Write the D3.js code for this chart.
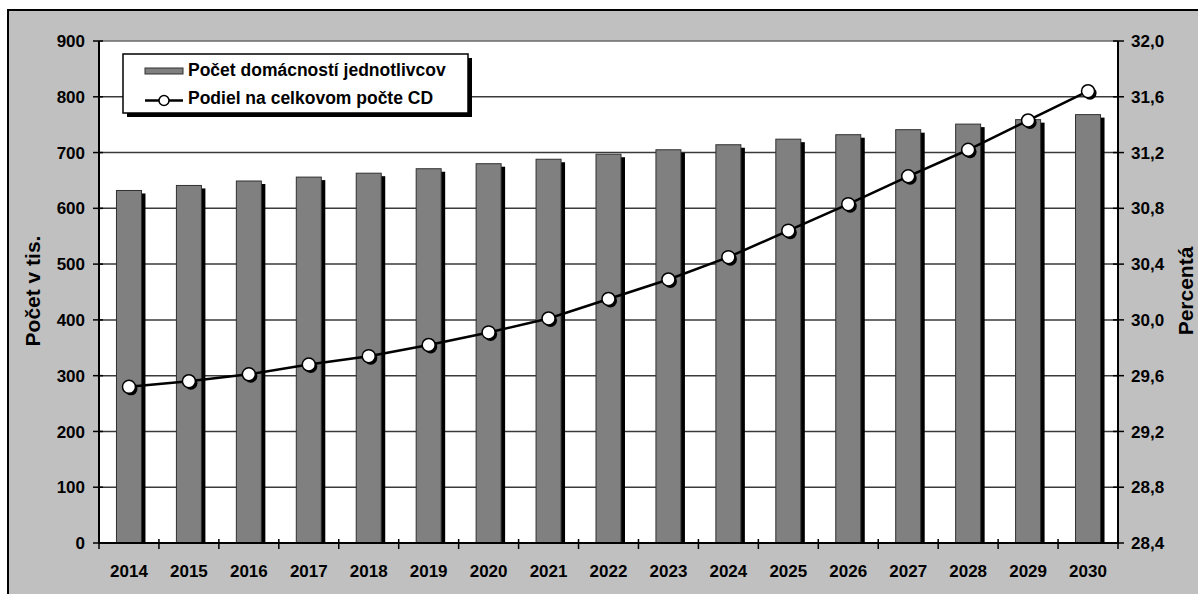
<!DOCTYPE html>
<html>
<head>
<meta charset="utf-8">
<script src="https://cdn.jsdelivr.net/npm/d3@7"></script>
<style>
  html, body { margin: 0; padding: 0; background: #ffffff; }
  svg { display: block; font-family: "Liberation Sans", Arial, sans-serif; font-weight: bold; }
</style>
</head>
<body>
<svg id="chart" width="1198" height="594"></svg>
<script>
const years = ["2014","2015","2016","2017","2018","2019","2020","2021","2022","2023","2024","2025","2026","2027","2028","2029","2030"];
const households = [632, 641, 649, 656, 663, 671, 680, 688, 697, 705, 714, 724, 732, 741, 751, 759, 768];
const share = [29.52, 29.56, 29.61, 29.68, 29.74, 29.82, 29.91, 30.01, 30.15, 30.29, 30.45, 30.64, 30.83, 31.03, 31.22, 31.43, 31.64];
const leftTicks = [0, 100, 200, 300, 400, 500, 600, 700, 800, 900];
const rightTicks = [28.4, 28.8, 29.2, 29.6, 30.0, 30.4, 30.8, 31.2, 31.6, 32.0];
const seriesNames = ["Počet domácností jednotlivcov", "Podiel na celkovom počte CD"];
const leftTitle = "Počet v tis.";
const rightTitle = "Percentá";

const svg = d3.select("#chart");
const W = 1198, H = 594;
const plot = {x0: 99, x1: 1118, y0: 41, y1: 543};

svg.append("rect").attr("x", 0).attr("y", 0).attr("width", W).attr("height", H).attr("fill", "#ffffff");
// chart area (gray)
svg.append("rect").attr("x", 8).attr("y", 10).attr("width", W + 20).attr("height", H + 20)
  .attr("fill", "#c0c0c0").attr("stroke", "#000").attr("stroke-width", 2);

const x = d3.scaleBand().domain(years).range([plot.x0, plot.x1]).padding(0);
const yL = d3.scaleLinear().domain([0, 900]).range([plot.y1, plot.y0]);
const yR = d3.scaleLinear().domain([28.4, 32.0]).range([plot.y1, plot.y0]);

// plot area
svg.append("rect").attr("x", plot.x0).attr("y", plot.y0)
  .attr("width", plot.x1 - plot.x0).attr("height", plot.y1 - plot.y0).attr("fill", "#ffffff");

// gridlines
svg.append("g").selectAll("line").data(leftTicks.filter(d => d > 0)).join("line")
  .attr("x1", plot.x0).attr("x2", plot.x1)
  .attr("y1", d => yL(d)).attr("y2", d => yL(d))
  .attr("stroke", d => d === 900 ? "#6a6a6a" : "#3a3a3a").attr("stroke-width", 1.5);

// bars
const bw = 25;
const barG = svg.append("g");
barG.selectAll("rect.sh").data(households).join("rect").attr("class", "sh")
  .attr("x", (d, i) => x(years[i]) + x.bandwidth() / 2 - bw / 2 + 4)
  .attr("y", d => yL(d) + 3)
  .attr("width", bw).attr("height", d => plot.y1 - yL(d) - 3)
  .attr("fill", "#000");
barG.selectAll("rect.bar").data(households).join("rect").attr("class", "bar")
  .attr("x", (d, i) => x(years[i]) + x.bandwidth() / 2 - bw / 2)
  .attr("y", d => yL(d))
  .attr("width", bw).attr("height", d => plot.y1 - yL(d))
  .attr("fill", "#808080").attr("stroke", "#303030").attr("stroke-width", 1);

// axes lines
const axG = svg.append("g").attr("stroke", "#000");
axG.append("line").attr("x1", plot.x0).attr("x2", plot.x0).attr("y1", plot.y0).attr("y2", plot.y1 + 1).attr("stroke-width", 2);
axG.append("line").attr("x1", plot.x1).attr("x2", plot.x1).attr("y1", plot.y0).attr("y2", plot.y1 + 1).attr("stroke-width", 2);
axG.append("line").attr("x1", plot.x0).attr("x2", plot.x1).attr("y1", plot.y1).attr("y2", plot.y1).attr("stroke-width", 2);

// left ticks
axG.selectAll("line.lt").data(leftTicks).join("line").attr("class", "lt")
  .attr("x1", plot.x0 - 6).attr("x2", plot.x0 + 4).attr("y1", d => yL(d)).attr("y2", d => yL(d)).attr("stroke-width", 1.5);
// right ticks
axG.selectAll("line.rt").data(rightTicks).join("line").attr("class", "rt")
  .attr("x1", plot.x1 - 5).attr("x2", plot.x1 + 6).attr("y1", d => yR(d)).attr("y2", d => yR(d)).attr("stroke-width", 1.5);
// bottom ticks at band edges
const edges = years.map(d => x(d)).concat([plot.x1]);
axG.selectAll("line.bt").data(edges).join("line").attr("class", "bt")
  .attr("x1", d => d).attr("x2", d => d).attr("y1", plot.y1 - 4).attr("y2", plot.y1 + 6).attr("stroke-width", 1.5);

// tick labels
const fmtR = v => d3.format(".1f")(v).replace(".", ",");
svg.append("g").selectAll("text").data(leftTicks).join("text")
  .attr("x", 85).attr("y", d => yL(d)).attr("dy", "0.36em")
  .attr("text-anchor", "end").attr("font-size", 17).attr("fill", "#000").text(d => d);
svg.append("g").selectAll("text").data(rightTicks).join("text")
  .attr("x", 1131).attr("y", d => yR(d)).attr("dy", "0.36em")
  .attr("text-anchor", "start").attr("font-size", 17).attr("fill", "#000").text(d => fmtR(d));
svg.append("g").selectAll("text").data(years).join("text")
  .attr("x", d => x(d) + x.bandwidth() / 2).attr("y", 577)
  .attr("text-anchor", "middle").attr("font-size", 17).attr("fill", "#000").text(d => d);

// axis titles
svg.append("text").attr("transform", "translate(40,291) rotate(-90)")
  .attr("text-anchor", "middle").attr("font-size", 21).attr("fill", "#000").text(leftTitle);
svg.append("text").attr("transform", "translate(1193,291) rotate(-90)")
  .attr("text-anchor", "middle").attr("font-size", 21).attr("fill", "#000").text(rightTitle);

// line series
const cx = (d, i) => x(years[i]) + x.bandwidth() / 2;
const line = d3.line().x((d, i) => cx(d, i)).y(d => yR(d));
svg.append("path").datum(share).attr("d", line)
  .attr("fill", "none").attr("stroke", "#000").attr("stroke-width", 2.5);
const mG = svg.append("g");
mG.selectAll("circle.sh").data(share).join("circle").attr("class", "sh")
  .attr("cx", (d, i) => cx(d, i) + 2).attr("cy", d => yR(d) + 2).attr("r", 6.5).attr("fill", "#000");
mG.selectAll("circle.pt").data(share).join("circle").attr("class", "pt")
  .attr("cx", (d, i) => cx(d, i)).attr("cy", d => yR(d)).attr("r", 6.5)
  .attr("fill", "#fff").attr("stroke", "#000").attr("stroke-width", 1.5);

// legend
const lg = svg.append("g");
lg.append("rect").attr("x", 127).attr("y", 58).attr("width", 345).attr("height", 59).attr("fill", "#000");
lg.append("rect").attr("x", 123).attr("y", 54).attr("width", 345).attr("height", 59)
  .attr("fill", "#fff").attr("stroke", "#000").attr("stroke-width", 1.5);
lg.append("rect").attr("x", 145).attr("y", 68).attr("width", 38).attr("height", 6)
  .attr("fill", "#808080").attr("stroke", "#303030").attr("stroke-width", 1);
lg.append("line").attr("x1", 145).attr("x2", 183).attr("y1", 100.5).attr("y2", 100.5)
  .attr("stroke", "#000").attr("stroke-width", 2.5);
lg.append("circle").attr("cx", 164).attr("cy", 100.5).attr("r", 5)
  .attr("fill", "#fff").attr("stroke", "#000").attr("stroke-width", 1.5);
lg.selectAll("text").data(seriesNames).join("text")
  .attr("x", 188).attr("y", (d, i) => 76 + i * 28)
  .attr("font-size", 17.5).attr("fill", "#000").text(d => d);
</script>
</body>
</html>
